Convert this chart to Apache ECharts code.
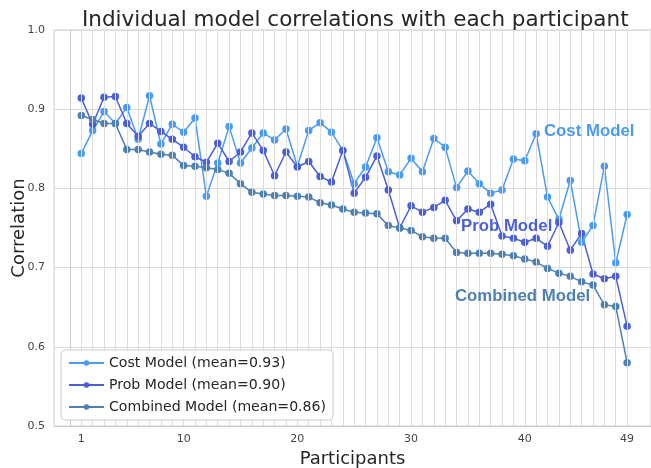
<!DOCTYPE html>
<html>
<head>
<meta charset="utf-8">
<script src="https://cdn.jsdelivr.net/npm/echarts@6/dist/echarts.min.js"></script>
<style>html,body{margin:0;padding:0;background:#fff}#c{width:651px;height:468px}</style>
</head>
<body>
<div id="c"></div>
<script>
const participants = [1,2,3,4,5,6,7,8,9,10,11,12,13,14,15,16,17,18,19,20,21,22,23,24,25,26,27,28,29,30,31,32,33,34,35,36,37,38,39,40,41,42,43,44,45,46,47,48,49];
const costModel = [0.844,0.873,0.897,0.882,0.902,0.862,0.917,0.856,0.881,0.871,0.889,0.790,0.832,0.878,0.832,0.851,0.870,0.861,0.875,0.828,0.873,0.883,0.871,0.848,0.806,0.827,0.864,0.821,0.817,0.838,0.821,0.863,0.852,0.801,0.822,0.806,0.794,0.798,0.837,0.835,0.869,0.789,0.761,0.810,0.732,0.753,0.828,0.706,0.767];
const probModel = [0.914,0.881,0.915,0.916,0.882,0.866,0.882,0.872,0.862,0.852,0.840,0.833,0.857,0.834,0.846,0.870,0.848,0.816,0.846,0.827,0.834,0.815,0.808,0.848,0.794,0.814,0.841,0.798,0.750,0.778,0.770,0.776,0.785,0.759,0.774,0.770,0.780,0.740,0.737,0.732,0.737,0.727,0.757,0.722,0.743,0.692,0.686,0.689,0.626];
const combinedModel = [0.892,0.887,0.882,0.882,0.849,0.849,0.846,0.843,0.842,0.829,0.828,0.826,0.824,0.819,0.806,0.795,0.793,0.791,0.791,0.790,0.789,0.782,0.779,0.774,0.770,0.769,0.768,0.753,0.750,0.747,0.739,0.737,0.737,0.719,0.718,0.718,0.718,0.717,0.715,0.711,0.707,0.699,0.693,0.689,0.682,0.678,0.653,0.651,0.580];
const seriesNames = ['Cost Model (mean=0.93)','Prob Model (mean=0.90)','Combined Model (mean=0.86)'];
const annotationNames = ['Cost Model','Prob Model','Combined Model'];
const xTickLabels = [1,10,20,30,40,49];

const colors = ['#4a9bf4','#4a5fd8','#4e80b1'];
const font = 'DejaVu Sans';
const chart = echarts.init(document.getElementById('c'), null, {renderer:'canvas'});

function pairs(vals){ return participants.map((p,i)=>[p, vals[i]]); }
function lineSeries(name, vals, color){
  return {
    name, type:'line', data:pairs(vals), z:3,
    symbol:'circle', symbolSize:7.5, showSymbol:true,
    lineStyle:{color, width:1.5}, itemStyle:{color},
    emphasis:{disabled:true}, animation:false
  };
}

chart.setOption({
  animation:false,
  title:{
    text:'Individual model correlations with each participant',
    left:77, top:4,
    textStyle:{fontFamily:font, fontSize:21.5, fontWeight:'normal', color:'#262626'}
  },
  grid:{left:54, right:0, top:30, bottom:42, containLabel:false, outerBoundsMode:'none', show:true, borderColor:'#cccccc', borderWidth:1, backgroundColor:'#fff'},
  xAxis:{
    type:'value', min:-1.4, max:51.1,
    name:'Participants', nameLocation:'middle', nameGap:11,
    nameTextStyle:{fontFamily:font, fontSize:18, color:'#262626'},
    axisLine:{show:true, lineStyle:{color:'#cccccc', width:1}},
    axisTick:{show:false},
    splitLine:{show:false},
    axisLabel:{customValues:xTickLabels, fontFamily:font, fontSize:11, color:'#444', margin:8}
  },
  yAxis:{
    type:'value', min:0.5, max:1.0, interval:0.1,
    name:'Correlation', nameLocation:'middle', nameGap:26, nameRotate:90, nameMoveOverlap:false,
    nameTextStyle:{fontFamily:font, fontSize:18, color:'#262626'},
    axisLine:{show:true, lineStyle:{color:'#cccccc', width:1}},
    axisTick:{show:false},
    splitLine:{show:true, lineStyle:{color:'#dcdcdc', width:1}},
    axisLabel:{fontFamily:font, fontSize:11, color:'#444', margin:9, formatter:v=>v.toFixed(1)}
  },
  legend:{
    data:seriesNames, orient:'vertical', left:61, top:350, z:20,
    backgroundColor:'#ffffff', borderColor:'#cccccc', borderWidth:1, borderRadius:4,
    padding:[6,7,6,7], itemGap:8, itemWidth:35, itemHeight:7,
    textStyle:{fontFamily:font, fontSize:14.1, color:'#262626'},
    selectedMode:false
  },
  series:[
    {
      name:'grid', type:'line', data:pairs(combinedModel), z:1, silent:true,
      symbol:'none', lineStyle:{opacity:0}, animation:false,
      markLine:{
        silent:true, symbol:'none', animation:false,
        label:{show:false},
        lineStyle:{color:'#dcdcdc', width:1, type:'solid'},
        data:participants.map(p=>({xAxis:p}))
      }
    },
    lineSeries(seriesNames[0], costModel, colors[0]),
    lineSeries(seriesNames[1], probModel, colors[1]),
    lineSeries(seriesNames[2], combinedModel, colors[2])
  ],
  graphic:[
    {type:'text', left:544, top:123, z:10, style:{text:annotationNames[0], fill:colors[0], font:'bold 16.8px "Liberation Sans"'}},
    {type:'text', left:461, top:218, z:10, style:{text:annotationNames[1], fill:colors[1], font:'bold 16.8px "Liberation Sans"'}},
    {type:'text', left:455, top:288, z:10, style:{text:annotationNames[2], fill:colors[2], font:'bold 16.8px "Liberation Sans"'}}
  ]
});
</script>
</body>
</html>
